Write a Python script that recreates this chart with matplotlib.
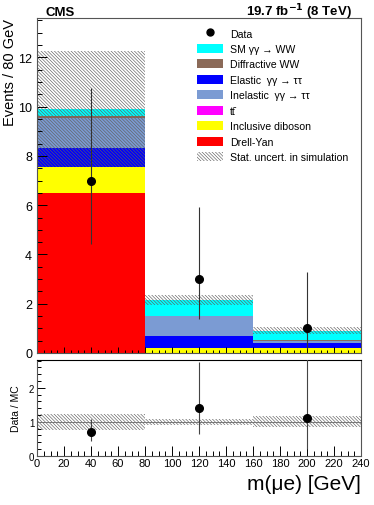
import numpy as np
import matplotlib
matplotlib.use("Agg")
import matplotlib.pyplot as plt
from matplotlib.patches import Patch
from matplotlib.lines import Line2D
from matplotlib.ticker import MultipleLocator

plt.rcParams["font.family"] = ["Liberation Sans", "DejaVu Sans"]
plt.rcParams["hatch.linewidth"] = 0.45
plt.rcParams["hatch.color"] = "#606060"

# binning
bin_edges = [0, 80, 160, 240]
bin_centers = [40, 120, 200]

# stacked backgrounds, bottom to top
drell_yan = [6.49, 0.0, 0.0]
diboson = [1.06, 0.19, 0.19]
ttbar = [0.0, 0.0, 0.0]
elastic_tautau = [0.79, 0.48, 0.22]
inelastic_tautau = [1.19, 0.82, 0.09]
diffractive_ww = [0.09, 0.02, 0.01]
sm_ww = [0.30, 0.64, 0.39]
stat_unc = [2.36, 0.20, 0.14]

# data with asymmetric (Poisson) errors
data = [7, 3, 1]
data_lo = [4.42, 1.37, 0.17]
data_hi = [10.77, 5.92, 3.30]

names = {
    "dy": "Drell-Yan",
    "vv": "Inclusive diboson",
    "tt": "tt\u0304",
    "el": "Elastic  γγ → ττ",
    "inel": "Inelastic  γγ → ττ",
    "diff": "Diffractive WW",
    "sm": "SM γγ → WW",
}
colors = {
    "dy": "#ff0000",
    "vv": "#ffff00",
    "tt": "#ff00ff",
    "el": "#0000ff",
    "inel": "#7b9bd3",
    "diff": "#8b6a58",
    "sm": "#00ffff",
}
stack_order = [("dy", drell_yan), ("vv", diboson), ("tt", ttbar),
               ("el", elastic_tautau), ("inel", inelastic_tautau),
               ("diff", diffractive_ww), ("sm", sm_ww)]
legend_order = ["sm", "diff", "el", "inel", "tt", "vv", "dy"]
HATCH = "\\" * 10

W, H = 374, 506
fig = plt.figure(figsize=(W / 100, H / 100), dpi=100)
ax = fig.add_axes([37 / W, 1 - 354 / H, 324 / W, 335 / H])
rax = fig.add_axes([37 / W, 1 - 456.7 / H, 324 / W, 95.7 / H])

widths = np.diff(bin_edges)
lefts = np.array(bin_edges[:-1])
bottom = np.zeros(3)
for key, vals in stack_order:
    vals = np.array(vals)
    ax.bar(lefts, vals, width=widths, bottom=bottom, align="edge",
           color=colors[key], edgecolor="none", linewidth=0)
    bottom += vals
total = bottom

# stat uncertainty band
unc = np.array(stat_unc)
ax.bar(lefts, 2 * unc, width=widths, bottom=total - unc, align="edge",
       fill=False, hatch=HATCH, edgecolor="#606060", linewidth=0)

# data
d = np.array(data)
ax.errorbar(bin_centers, d, yerr=[d - np.array(data_lo), np.array(data_hi) - d],
            fmt="o", color="black", ms=5.5, elinewidth=0.8, ecolor="#333333",
            capsize=0, zorder=5)

ax.set_xlim(0, 240)
ax.set_ylim(0, 13.6)
ax.set_xticklabels([])
ax.xaxis.set_major_locator(MultipleLocator(20))
ax.xaxis.set_minor_locator(MultipleLocator(5))
ax.yaxis.set_major_locator(MultipleLocator(2))
ax.yaxis.set_minor_locator(MultipleLocator(0.5))
ax.tick_params(which="both", direction="in", labelsize=9)
ax.tick_params(which="major", axis="y", length=7, width=0.7)
ax.tick_params(which="minor", axis="y", length=3.5, width=0.7)
ax.tick_params(which="major", axis="x", length=4, width=0.7)
ax.tick_params(which="minor", axis="x", length=2.5, width=0.7)
for sp in ax.spines.values():
    sp.set_linewidth(0.8)
    sp.set_color("#555555")
ax.set_ylabel("Events / 80 GeV", fontsize=10.5, loc="top", labelpad=1)

# legend
handles = [Line2D([], [], marker="o", color="black", ls="none", ms=5)]
labels = ["Data"]
for key in legend_order:
    handles.append(Patch(facecolor=colors[key], edgecolor="none"))
    labels.append(names[key])
handles.append(Patch(facecolor="none", edgecolor="#606060", hatch=HATCH, linewidth=0))
labels.append("Stat. uncert. in simulation")
ax.legend(handles, labels, loc="upper left", bbox_to_anchor=(0.494, 0.969),
          frameon=False, fontsize=7.6, handlelength=2.5, handleheight=0.95,
          labelspacing=0.5, handletextpad=0.6, borderpad=0, borderaxespad=0)

fig.text(45 / W, 1 - 16 / H, "CMS", fontsize=9.5, fontweight="bold", va="baseline")
fig.text(352 / W, 1 - 16 / H, r"19.7 fb$^{\mathbf{-1}}$ (8 TeV)", fontsize=9.5,
         fontweight="bold", va="baseline", ha="right")

# ratio panel
ratio = d / total
r_lo = np.array(data_lo) / total
r_hi = np.array(data_hi) / total
r_unc = unc / total
rax.bar(lefts, 2 * r_unc, width=widths, bottom=1 - r_unc, align="edge",
        fill=False, hatch=HATCH, edgecolor="#606060", linewidth=0)
rax.axhline(1, color="#777777", lw=0.7)
rax.errorbar(bin_centers, ratio, yerr=[ratio - r_lo, r_hi - ratio], fmt="o",
             color="black", ms=5.5, elinewidth=0.8, ecolor="#444444",
             capsize=0, zorder=5)
rax.set_xlim(0, 240)
rax.set_ylim(0, 2.82)
rax.xaxis.set_major_locator(MultipleLocator(20))
rax.xaxis.set_minor_locator(MultipleLocator(5))
rax.yaxis.set_major_locator(MultipleLocator(1))
rax.yaxis.set_minor_locator(MultipleLocator(0.2))
rax.tick_params(which="both", direction="in")
rax.tick_params(axis="x", labelsize=8, pad=2)
rax.tick_params(axis="y", labelsize=7, pad=2)
rax.tick_params(which="major", axis="x", length=7, width=0.7)
rax.tick_params(which="minor", axis="x", length=3.5, width=0.7)
rax.tick_params(which="major", axis="y", length=6, width=0.7)
rax.tick_params(which="minor", axis="y", length=3, width=0.7)
for sp in rax.spines.values():
    sp.set_linewidth(0.8)
    sp.set_color("#555555")
rax.spines["top"].set_color("black")
rax.set_ylabel("Data / MC", fontsize=7.5, labelpad=6)
rax.set_xlabel("m(μe) [GeV]", fontsize=15, loc="right", labelpad=4)

fig.savefig("out.png", dpi=100)
